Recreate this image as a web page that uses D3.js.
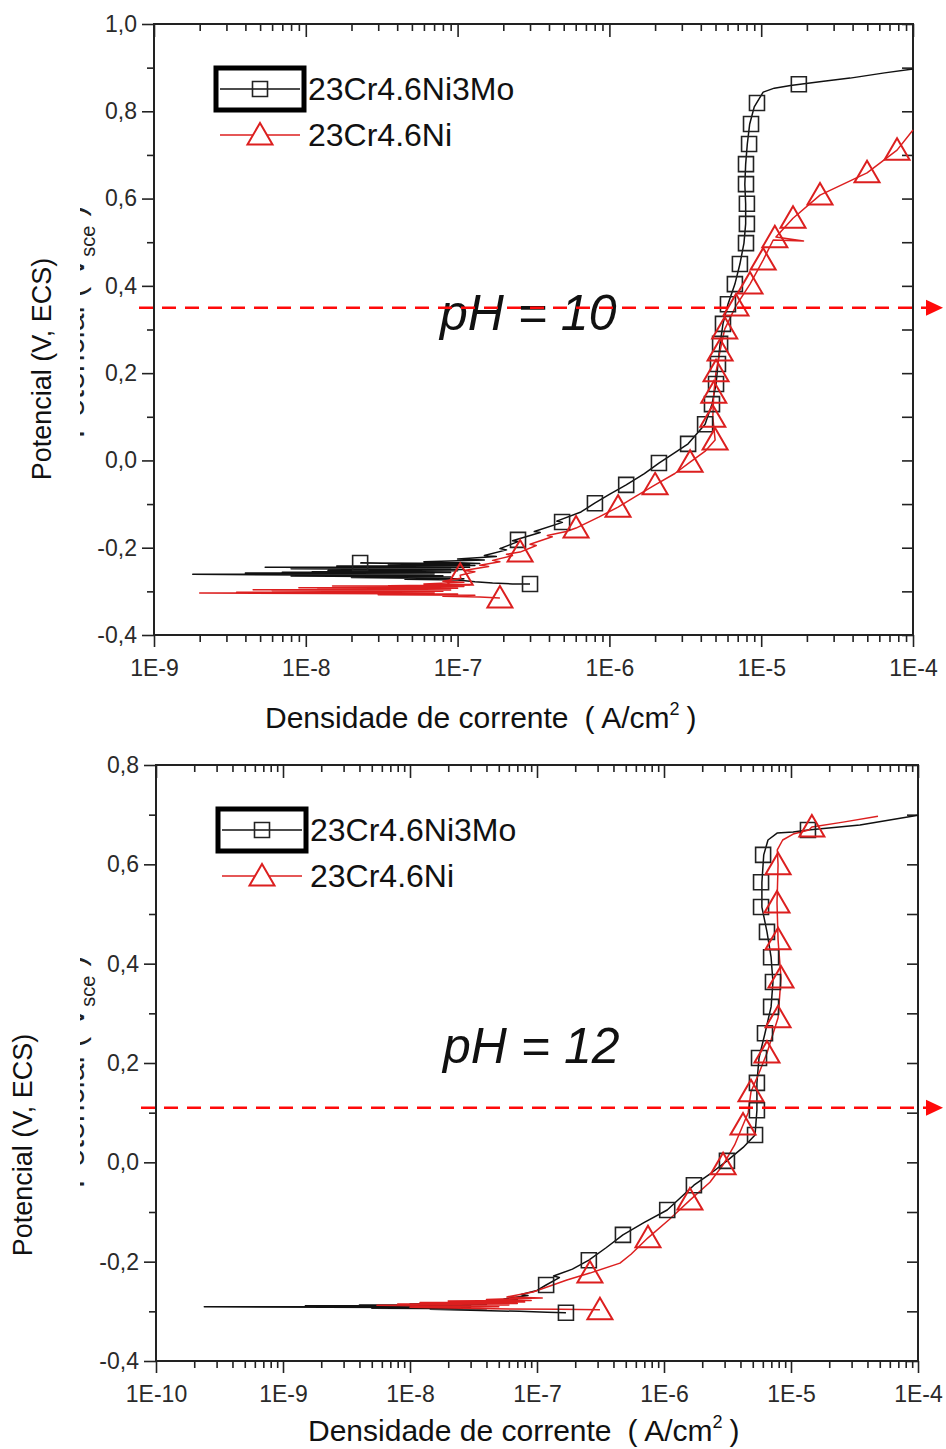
<!DOCTYPE html>
<meta charset="utf-8">
<style>
    body { margin: 0; background: #fff; }
    svg { display: block; font-family: "Liberation Sans", Arial, sans-serif; }
    .tick text { fill: #2a2a2a; font-size: 23px; }
    .tick line { stroke: #222; stroke-width: 1.6px; }
    .frame { fill: none; stroke: #222; stroke-width: 2px; }
    .curve { fill: none; stroke-width: 1.5px; stroke-linejoin: round; }
</style>
<svg width="946" height="1449"></svg>
<script src="https://d3js.org/d3.v7.min.js"></script>
<script>

    var seriesNames = ["23Cr4.6Ni3Mo", "23Cr4.6Ni"];

    // ---- pH 10 : [current density A/cm2, potential V] ----
    var xTicks10 = [1e-9, 1e-8, 1e-7, 1e-6, 1e-5, 1e-4];
    var xLabels10 = ["1E-9", "1E-8", "1E-7", "1E-6", "1E-5", "1E-4"];
    var yTicks10 = [-0.4, -0.2, 0.0, 0.2, 0.4, 0.6, 0.8, 1.0];

    var mo10Line = [
        [3.0e-7,-0.283],[2.3e-7,-0.283],[1.7e-7,-0.281],[1.3e-7,-0.278],[1.0e-7,-0.274],
        [4.5e-8,-0.272],[1.1e-7,-0.271],[2.0e-8,-0.268],[9.0e-8,-0.267],[8.0e-9,-0.265],
        [8.0e-8,-0.264],[1.8e-9,-0.261],[7.0e-8,-0.260],[4.0e-9,-0.258],[9.0e-8,-0.257],
        [7.0e-9,-0.256],[6.0e-8,-0.2555],[1.1e-8,-0.255],[1.0e-7,-0.253],[1.4e-8,-0.252],
        [8.5e-8,-0.2515],[2.5e-8,-0.251],[1.1e-7,-0.250],[8.0e-9,-0.248],[9.0e-8,-0.247],
        [1.8e-8,-0.246],[1.0e-7,-0.2455],[5.4e-9,-0.245],[1.2e-7,-0.245],[1.6e-8,-0.242],
        [1.3e-7,-0.241],[3.5e-8,-0.239],[1.2e-7,-0.238],[2.3e-8,-0.235],[1.4e-7,-0.236],
        [6.0e-8,-0.232],[1.5e-7,-0.228],[1.0e-7,-0.226],[1.8e-7,-0.220],[1.5e-7,-0.218],
        [2.1e-7,-0.205],[1.9e-7,-0.202],[2.5e-7,-0.186],[2.3e-7,-0.184],[3.5e-7,-0.165],
        [3.2e-7,-0.163],[4.9e-7,-0.142],[4.5e-7,-0.139],[6.5e-7,-0.118],[8.0e-7,-0.098],
        [1.0e-6,-0.078],[1.29e-6,-0.056],[1.7e-6,-0.030],[2.12e-6,-0.006],[2.7e-6,0.018],
        [3.3e-6,0.038],[4.27e-6,0.083],[4.74e-6,0.129],[5.04e-6,0.175],[5.19e-6,0.221],
        [5.36e-6,0.267],[5.60e-6,0.313],[6.04e-6,0.358],[6.71e-6,0.404],[7.24e-6,0.450],
        [7.7e-6,0.498],[7.9e-6,0.542],[7.9e-6,0.588],[7.8e-6,0.633],[7.9e-6,0.679],
        [8.1e-6,0.725],[8.4e-6,0.771],[9.0e-6,0.810],[1.03e-5,0.844],[1.22e-5,0.853],
        [1.56e-5,0.859],[2.5e-5,0.868],[3.85e-5,0.876],[6.5e-5,0.888],[1.0e-4,0.897]
    ];
    var mo10Marks = [
        [2.28e-8,-0.235],[3.0e-7,-0.283],[2.50e-7,-0.182],[4.88e-7,-0.141],[8.03e-7,-0.098],
        [1.29e-6,-0.056],[2.12e-6,-0.006],[3.30e-6,0.038],[4.27e-6,0.083],[4.74e-6,0.129],
        [5.04e-6,0.175],[5.19e-6,0.221],[5.36e-6,0.267],[5.60e-6,0.313],[6.04e-6,0.358],
        [6.71e-6,0.404],[7.24e-6,0.450],[7.94e-6,0.498],[8.05e-6,0.542],[8.05e-6,0.588],
        [7.94e-6,0.633],[7.94e-6,0.679],[8.32e-6,0.725],[8.57e-6,0.771],[9.38e-6,0.819],
        [1.77e-5,0.862]
    ];
    var ni10Line = [
        [1.9e-7,-0.315],[1.4e-7,-0.313],[8.0e-8,-0.311],[1.3e-7,-0.309],[3.0e-8,-0.308],
        [1.0e-7,-0.306],[2.0e-9,-0.304],[7.0e-8,-0.303],[3.5e-9,-0.302],[8.0e-8,-0.300],
        [6.0e-9,-0.298],[9.0e-8,-0.297],[4.5e-9,-0.2965],[7.5e-8,-0.296],[1.2e-8,-0.295],
        [1.0e-7,-0.293],[9.0e-9,-0.292],[8.0e-8,-0.2915],[2.2e-8,-0.291],[1.1e-7,-0.289],
        [1.5e-8,-0.288],[9.0e-8,-0.2875],[3.5e-8,-0.287],[1.2e-7,-0.285],[6.0e-8,-0.283],
        [1.1e-7,-0.279],[8.0e-8,-0.277],[1.05e-7,-0.270],[1.04e-7,-0.263],[1.3e-7,-0.255],
        [1.1e-7,-0.252],[1.6e-7,-0.243],[1.4e-7,-0.240],[1.9e-7,-0.232],[1.7e-7,-0.229],
        [2.3e-7,-0.218],[2.1e-7,-0.215],[2.58e-7,-0.210],[3.3e-7,-0.195],[3.0e-7,-0.192],
        [4.2e-7,-0.175],[3.9e-7,-0.172],[5.2e-7,-0.163],[6.03e-7,-0.155],[8.5e-7,-0.130],
        [1.14e-6,-0.107],[1.5e-6,-0.082],[2.0e-6,-0.056],[2.7e-6,-0.030],[3.4e-6,-0.004],
        [4.3e-6,0.022],[4.97e-6,0.047],[4.8e-6,0.099],[4.87e-6,0.154],[5.04e-6,0.203],
        [5.36e-6,0.251],[5.75e-6,0.301],[6.82e-6,0.354],[8.44e-6,0.404],[1.03e-5,0.459],
        [1.2e-5,0.505],[1.9e-5,0.503],[1.25e-5,0.512],[1.62e-5,0.555],[2.44e-5,0.608],
        [4.98e-5,0.659],[7.85e-5,0.711],[1.0e-4,0.757]
    ];
    var ni10Marks = [
        [1.9e-7,-0.315],[1.04e-7,-0.263],[2.58e-7,-0.210],[6.03e-7,-0.155],[1.14e-6,-0.107],
        [2.0e-6,-0.056],[3.4e-6,-0.004],[4.97e-6,0.047],[4.8e-6,0.099],[4.87e-6,0.154],
        [5.04e-6,0.203],[5.36e-6,0.251],[5.75e-6,0.301],[6.82e-6,0.354],[8.44e-6,0.404],
        [1.03e-5,0.459],[1.23e-5,0.510],[1.62e-5,0.555],[2.44e-5,0.608],[4.98e-5,0.659],
        [7.85e-5,0.711]
    ];

    // ---- pH 12 ----
    var xTicks12 = [1e-10, 1e-9, 1e-8, 1e-7, 1e-6, 1e-5, 1e-4];
    var xLabels12 = ["1E-10", "1E-9", "1E-8", "1E-7", "1E-6", "1E-5", "1E-4"];
    var yTicks12 = [-0.4, -0.2, 0.0, 0.2, 0.4, 0.6, 0.8];

    var mo12Line = [
        [1.69e-7,-0.303],[1.2e-7,-0.302],[7.3e-8,-0.300],[3.0e-8,-0.298],[1.44e-8,-0.296],
        [4.0e-8,-0.295],[5.0e-9,-0.294],[3.0e-8,-0.293],[2.4e-10,-0.291],[2.0e-8,-0.290],
        [1.5e-9,-0.289],[3.0e-8,-0.288],[4.0e-9,-0.287],[4.0e-8,-0.286],[1.0e-8,-0.285],
        [5.0e-8,-0.283],[2.0e-8,-0.282],[6.0e-8,-0.280],[3.5e-8,-0.279],[7.0e-8,-0.276],
        [5.5e-8,-0.275],[8.5e-8,-0.268],[7.5e-8,-0.266],[1.0e-7,-0.258],[1.18e-7,-0.247],
        [1.5e-7,-0.232],[1.35e-7,-0.229],[1.9e-7,-0.215],[2.56e-7,-0.197],[3.5e-7,-0.172],
        [4.75e-7,-0.146],[7.0e-7,-0.121],[1.06e-6,-0.096],[1.72e-6,-0.046],[2.4e-6,-0.020],
        [3.13e-6,0.003],[4.2e-6,0.030],[5.21e-6,0.055],[5.39e-6,0.105],[5.39e-6,0.160],
        [5.60e-6,0.210],[6.24e-6,0.260],[6.97e-6,0.313],[7.21e-6,0.363],[6.97e-6,0.413],
        [6.47e-6,0.464],[5.9e-6,0.514],[5.9e-6,0.564],[6.1e-6,0.619],[6.59e-6,0.649],
        [7.77e-6,0.663],[1.04e-5,0.665],[1.36e-5,0.669],[3.49e-5,0.679],[1.0e-4,0.699]
    ];
    var mo12Marks = [
        [1.69e-7,-0.303],[1.18e-7,-0.247],[2.56e-7,-0.197],[4.75e-7,-0.146],[1.06e-6,-0.096],
        [1.72e-6,-0.046],[3.13e-6,0.003],[5.21e-6,0.055],[5.39e-6,0.105],[5.39e-6,0.160],
        [5.60e-6,0.210],[6.24e-6,0.260],[6.97e-6,0.313],[7.21e-6,0.363],[6.97e-6,0.413],
        [6.47e-6,0.464],[5.81e-6,0.514],[5.81e-6,0.564],[6.03e-6,0.619],[1.36e-5,0.669]
    ];
    var ni12Line = [
        [3.13e-7,-0.297],[1.5e-7,-0.296],[4.5e-8,-0.295],[1.0e-8,-0.292],[5.0e-8,-0.291],
        [5.5e-9,-0.288],[6.0e-8,-0.287],[8.0e-9,-0.285],[7.0e-8,-0.284],[1.2e-8,-0.282],
        [8.0e-8,-0.281],[2.0e-8,-0.279],[9.0e-8,-0.278],[4.0e-8,-0.276],[1.1e-7,-0.273],
        [5.8e-8,-0.271],[9.3e-8,-0.261],[1.72e-7,-0.237],[2.61e-7,-0.223],[4.5e-7,-0.203],
        [5.5e-7,-0.185],[7.48e-7,-0.152],[1.1e-6,-0.115],[1.6e-6,-0.076],[2.3e-6,-0.040],
        [2.92e-6,-0.005],[3.6e-6,0.035],[4.19e-6,0.075],[4.6e-6,0.100],[4.84e-6,0.142],
        [5.6e-6,0.180],[6.47e-6,0.220],[7.91e-6,0.291],[8.34e-6,0.371],[7.91e-6,0.448],
        [7.76e-6,0.522],[7.91e-6,0.599],[7.8e-6,0.629],[8.6e-6,0.649],[1.04e-5,0.661],
        [1.38e-5,0.669],[1.46e-5,0.675],[2.57e-5,0.685],[4.84e-5,0.697]
    ];
    var ni12Marks = [
        [3.13e-7,-0.297],[2.61e-7,-0.223],[7.48e-7,-0.152],[1.60e-6,-0.076],[2.92e-6,-0.005],
        [4.19e-6,0.075],[4.84e-6,0.142],[6.47e-6,0.220],[7.91e-6,0.291],[8.34e-6,0.371],
        [7.91e-6,0.448],[7.76e-6,0.522],[7.91e-6,0.599],[1.46e-5,0.675]
    ];

    var black = "#111", red = "#dc1f1f", dashRed = "#ff0a0a";

    var panels = [
        { left: 154, right: 913, top: 24, bottom: 635,
          xTicks: xTicks10, xLabels: xLabels10, yTicks: yTicks10, yDomain: [-0.4, 1.0],
          mo: mo10Line, moM: mo10Marks, ni: ni10Line, niM: ni10Marks,
          dashE: 0.35, phText: "pH = 10", phAt: [7.65e-8, 0.30],
          yLabelX: 42, yLabelY: 369, ghostY: 322, titleX: 265, titleY: 728 },
        { left: 156, right: 918, top: 765, bottom: 1361,
          xTicks: xTicks12, xLabels: xLabels12, yTicks: yTicks12, yDomain: [-0.4, 0.8],
          mo: mo12Line, moM: mo12Marks, ni: ni12Line, niM: ni12Marks,
          dashE: 0.11, phText: "pH = 12", phAt: [1.82e-8, 0.20],
          yLabelX: 23, yLabelY: 1145, ghostY: 1072, titleX: 308, titleY: 1441 }
    ];

    var svg = d3.select("svg");

    var fmtY = function (d) { return d.toFixed(1).replace(".", ","); };
    var squarePath = "M-7.5,-7.5H7.5V7.5H-7.5Z";
    var triPath = "M0,-12L12.5,9.5L-12.5,9.5Z";

    var defs = svg.append("defs");

    panels.forEach(function (p, pi) {
        var x = d3.scaleLog().domain([p.xTicks[0], p.xTicks[p.xTicks.length - 1]]).range([p.left, p.right]);
        var y = d3.scaleLinear().domain(p.yDomain).range([p.bottom, p.top]);

        var minors = [];
        p.xTicks.slice(0, -1).forEach(function (d) {
            for (var k = 2; k < 10; k++) minors.push(d * k);
        });
        var yAll = d3.range(Math.round(p.yDomain[0] * 10), Math.round(p.yDomain[1] * 10) + 1).map(function (k) { return k / 10; });
        var yMinor = yAll.filter(function (d) { return Math.round(d * 10) % 2 !== 0; });

        function noDomain(g) { g.select(".domain").remove(); }

        // bottom axis
        svg.append("g").attr("transform", "translate(0," + p.bottom + ")")
            .call(d3.axisBottom(x).tickValues(p.xTicks).tickFormat(function (d, i) { return p.xLabels[i]; })
                .tickSize(12).tickPadding(13))
            .call(noDomain);
        svg.append("g").attr("transform", "translate(0," + p.bottom + ")")
            .call(d3.axisBottom(x).tickValues(minors).tickFormat("").tickSize(7))
            .call(noDomain);
        // top axis (ticks inward)
        svg.append("g").attr("transform", "translate(0," + p.top + ")")
            .call(d3.axisBottom(x).tickValues(p.xTicks).tickFormat("").tickSize(13))
            .call(noDomain);
        svg.append("g").attr("transform", "translate(0," + p.top + ")")
            .call(d3.axisBottom(x).tickValues(minors).tickFormat("").tickSize(7))
            .call(noDomain);
        // left axis
        svg.append("g").attr("transform", "translate(" + p.left + ",0)")
            .call(d3.axisLeft(y).tickValues(p.yTicks).tickFormat(fmtY).tickSize(12).tickPadding(5))
            .call(noDomain);
        svg.append("g").attr("transform", "translate(" + p.left + ",0)")
            .call(d3.axisLeft(y).tickValues(yMinor).tickFormat("").tickSize(7))
            .call(noDomain);
        // right axis (ticks inward)
        svg.append("g").attr("transform", "translate(" + p.right + ",0)")
            .call(d3.axisRight(y).tickValues(yAll).tickFormat("").tickSize(-11))
            .call(noDomain);

        svg.append("rect").attr("class", "frame")
            .attr("x", p.left).attr("y", p.top)
            .attr("width", p.right - p.left).attr("height", p.bottom - p.top);

        // curves
        var line = d3.line().x(function (d) { return x(d[0]); }).y(function (d) { return y(d[1]); });

        svg.append("path").datum(p.mo).attr("class", "curve").attr("stroke", black).attr("d", line);
        svg.append("path").datum(p.ni).attr("class", "curve").attr("stroke", red).attr("d", line);

        svg.append("g").selectAll("path").data(p.moM).enter().append("path")
            .attr("d", squarePath)
            .attr("transform", function (d) { return "translate(" + x(d[0]) + "," + y(d[1]) + ")"; })
            .attr("fill", "none").attr("stroke", "#222").attr("stroke-width", 1.6);
        svg.append("g").selectAll("path").data(p.niM).enter().append("path")
            .attr("d", triPath)
            .attr("transform", function (d) { return "translate(" + x(d[0]) + "," + y(d[1]) + ")"; })
            .attr("fill", "none").attr("stroke", red).attr("stroke-width", 2);

        // legend
        var lx = p.left + 62, r1 = p.top + 65, r2 = p.top + 111;
        svg.append("rect").attr("x", lx).attr("y", r1 - 21).attr("width", 88).attr("height", 42)
            .attr("fill", "none").attr("stroke", "#000").attr("stroke-width", 5);
        svg.append("line").attr("x1", lx + 4).attr("x2", lx + 84).attr("y1", r1).attr("y2", r1)
            .attr("stroke", black).attr("stroke-width", 1.5);
        svg.append("path").attr("d", squarePath).attr("transform", "translate(" + (lx + 44) + "," + r1 + ")")
            .attr("fill", "none").attr("stroke", "#222").attr("stroke-width", 1.6);
        svg.append("line").attr("x1", lx + 4).attr("x2", lx + 84).attr("y1", r2).attr("y2", r2)
            .attr("stroke", red).attr("stroke-width", 1.5);
        svg.append("path").attr("d", triPath).attr("transform", "translate(" + (lx + 44) + "," + r2 + ")")
            .attr("fill", "#fff").attr("stroke", red).attr("stroke-width", 2);
        [r1, r2].forEach(function (r, i) {
            svg.append("text").attr("x", lx + 92).attr("y", r + 11)
                .attr("font-size", 32).attr("fill", "#111").text(seriesNames[i]);
        });

        // pH label
        svg.append("text").attr("x", x(p.phAt[0])).attr("y", y(p.phAt[1]))
            .attr("font-size", 50).attr("font-style", "italic").attr("fill", "#111")
            .text(p.phText);

        // dashed reference line with arrow
        var yd = y(p.dashE);
        svg.append("line").attr("x1", p.left - 15).attr("x2", 926).attr("y1", yd).attr("y2", yd)
            .attr("stroke", dashRed).attr("stroke-width", 2.6).attr("stroke-dasharray", "14,9");
        svg.append("path").attr("d", "M926," + (yd - 8) + "L943," + yd + "L926," + (yd + 8) + "Z")
            .attr("fill", dashRed);

        // y label, with the mostly covered older label behind it
        defs.append("clipPath").attr("id", "ghost" + pi).append("rect")
            .attr("x", 80).attr("y", p.top).attr("width", 30).attr("height", p.bottom - p.top);
        var ghost = svg.append("g").attr("clip-path", "url(#ghost" + pi + ")")
            .append("text").attr("transform", "translate(84," + p.ghostY + ") rotate(-90)")
            .attr("text-anchor", "middle").attr("font-size", 32).attr("fill", "#222");
        ghost.append("tspan").text("Potencial ( V");
        ghost.append("tspan").attr("font-size", 20).attr("dy", 11).text("sce");
        ghost.append("tspan").attr("dy", -11).text(" )");

        svg.append("text").attr("transform", "translate(" + p.yLabelX + "," + p.yLabelY + ") rotate(-90)")
            .attr("text-anchor", "middle").attr("dominant-baseline", "central")
            .attr("font-size", 27).attr("fill", "#111").text("Potencial (V, ECS)");

        // x title
        var t = svg.append("text").attr("x", p.titleX).attr("y", p.titleY)
            .attr("font-size", 30).attr("fill", "#111");
        t.append("tspan").text("Densidade de corrente");
        t.append("tspan").attr("dx", 16).text("( A/cm");
        t.append("tspan").attr("font-size", 18).attr("dy", -13).text("2");
        t.append("tspan").attr("dx", 7).attr("dy", 13).text(")");
    });

</script>
